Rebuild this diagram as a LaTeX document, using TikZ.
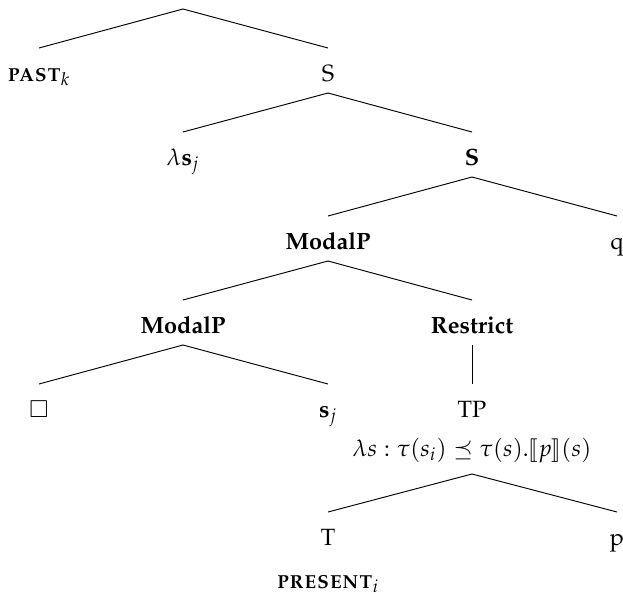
\documentclass[tikz,border=0pt]{standalone}
\usepackage[T1]{fontenc}
\usepackage{amsmath,amssymb}
\usepackage{stmaryrd}
\usepackage{mathpazo}
\usepackage{tikz}
\usetikzlibrary{positioning,calc}

\begin{document}
\begin{tikzpicture}[x=0.425pt,y=-0.425pt,
    lab/.style={anchor=base,inner sep=0pt}]
    \useasboundingbox (0,0) rectangle (623,594);

    % labels
    \node[lab] (root) at (183,-3) {};
    \node[lab] (past) at (39,81) {\textbf{\textsc{past}}$_k$};
    \node[lab] (s1) at (328,81) {S};
    \node[lab] (lam) at (183,165) {$\lambda\mathbf{s}_j$};
    \node[lab] (s2) at (472,165) {\textbf{S}};
    \node[lab] (modal1) at (328,249) {\textbf{ModalP}};
    \node[lab] (q) at (617,249) {q};
    \node[lab] (modal2) at (183,333) {\textbf{ModalP}};
    \node[lab] (restr) at (472,333) {\textbf{Restrict}};
    \node[lab] (box) at (39,417) {$\square$};
    \node[lab] (sj) at (328,417) {$\mathbf{s}_j$};
    \node[lab] (tp) at (472,417) {TP};
    \node[lab] (tpsem) at (472,456) {$\lambda s : \tau(s_i) \preceq \tau(s).\llbracket p\rrbracket(s)$};
    \node[lab] (t) at (328,545) {T};
    \node[lab] (p) at (617,545) {p};
    \node[lab] (pres) at (328,588) {\textbf{\textsc{present}}$_i$};

    % branches
    \draw ($(root.base)+(0,12)$) -- ($(past.base)+(0,-33)$);
    \draw ($(root.base)+(0,12)$) -- ($(s1.base)+(0,-33)$);
    \draw ($(s1.base)+(0,12)$) -- ($(lam.base)+(0,-33)$);
    \draw ($(s1.base)+(0,12)$) -- ($(s2.base)+(0,-33)$);
    \draw ($(s2.base)+(0,12)$) -- ($(modal1.base)+(0,-33)$);
    \draw ($(s2.base)+(0,12)$) -- ($(q.base)+(0,-33)$);
    \draw ($(modal1.base)+(0,12)$) -- ($(modal2.base)+(0,-33)$);
    \draw ($(modal1.base)+(0,12)$) -- ($(restr.base)+(0,-33)$);
    \draw ($(modal2.base)+(0,12)$) -- ($(box.base)+(0,-33)$);
    \draw ($(modal2.base)+(0,12)$) -- ($(sj.base)+(0,-33)$);
    \draw ($(restr.base)+(0,12)$) -- ($(tp.base)+(0,-33)$);
    \draw ($(tpsem.base)+(0,18)$) -- ($(t.base)+(0,-33)$);
    \draw ($(tpsem.base)+(0,18)$) -- ($(p.base)+(0,-33)$);
\end{tikzpicture}
\end{document}
